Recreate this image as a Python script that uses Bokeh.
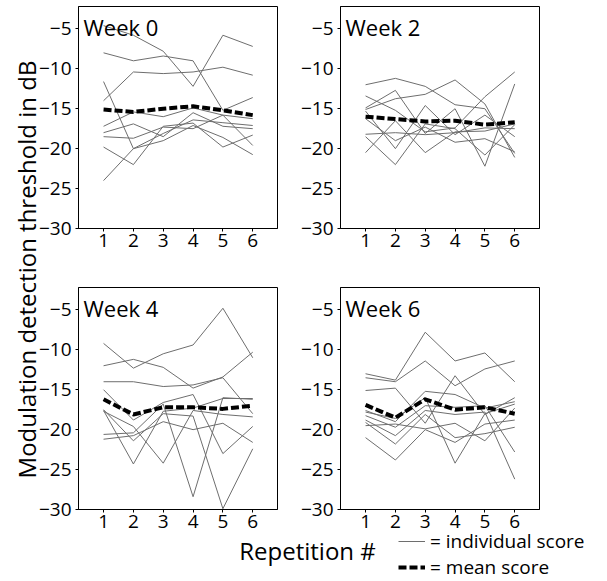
from bokeh.plotting import figure
from bokeh.layouts import row, column
from bokeh.models import Range1d, FixedTicker, Label, Legend, LegendItem
from bokeh.embed import file_html
from bokeh.resources import INLINE

# ---------------- data ----------------
repetitions = [1, 2, 3, 4, 5, 6]
y_ticks = [-30, -25, -20, -15, -10, -5]
week_titles = ["Week 0", "Week 2", "Week 4", "Week 6"]

week0_individual = [
    [-4.6, -5.8, -7.8, -12.2, -5.8, -7.2],
    [-8.0, -9.0, -8.4, -9.0, -15.2, -13.6],
    [-14.0, -10.4, -10.6, -10.4, -9.8, -10.8],
    [-11.6, -20.0, -19.0, -17.1, -18.6, -20.75],
    [-24.0, -20.0, -18.1, -16.4, -16.75, -17.1],
    [-19.8, -22.0, -17.2, -16.8, -19.8, -18.3],
    [-17.2, -15.4, -16.0, -14.9, -15.8, -16.25],
    [-18.0, -16.9, -18.5, -15.5, -17.2, -17.5],
    [-18.5, -18.7, -17.3, -17.5, -15.8, -19.6],
]
week0_mean = [-15.1, -15.4, -15.0, -14.7, -15.2, -15.8]

week2_individual = [
    [-12.0, -11.2, -12.2, -14.5, -15.0, -20.6],
    [-13.4, -15.2, -17.9, -17.4, -13.5, -10.4],
    [-14.9, -12.7, -18.1, -15.0, -22.2, -11.9],
    [-15.1, -13.75, -13.2, -11.4, -14.4, -21.1],
    [-16.25, -19.0, -17.3, -19.2, -18.75, -20.4],
    [-18.2, -18.0, -18.25, -18.0, -17.4, -17.5],
    [-18.5, -22.0, -16.9, -17.5, -20.8, -17.0],
    [-20.5, -16.5, -20.5, -17.9, -17.8, -16.9],
    [-15.3, -20.0, -14.6, -18.25, -15.8, -18.5],
]
week2_mean = [-16.0, -16.3, -16.6, -16.5, -17.0, -16.7]

week4_individual = [
    [-9.2, -12.3, -10.5, -9.4, -4.8, -11.0],
    [-12.0, -11.2, -12.2, -14.8, -13.4, -10.3],
    [-14.0, -14.0, -14.6, -14.4, -13.5, -18.0],
    [-15.0, -18.8, -16.6, -15.6, -23.0, -19.6],
    [-17.6, -24.3, -17.7, -17.3, -16.1, -16.1],
    [-17.7, -19.6, -24.2, -17.6, -18.1, -18.4],
    [-20.6, -20.4, -16.8, -28.4, -16.0, -16.2],
    [-21.2, -20.75, -19.0, -20.0, -19.2, -21.6],
    [-17.5, -21.4, -18.0, -18.3, -29.9, -22.4],
]
week4_mean = [-16.2, -18.1, -17.2, -17.2, -17.4, -17.0]

week6_individual = [
    [-13.0, -13.8, -7.8, -11.4, -10.4, -14.0],
    [-13.5, -14.0, -11.4, -14.5, -12.4, -11.4],
    [-15.1, -14.8, -19.2, -13.25, -18.1, -16.0],
    [-17.6, -19.0, -15.2, -15.6, -17.3, -16.5],
    [-18.25, -19.7, -17.0, -17.2, -17.0, -22.8],
    [-18.8, -20.75, -17.6, -18.1, -17.8, -26.2],
    [-19.1, -21.8, -18.1, -21.0, -20.5, -19.7],
    [-21.0, -23.8, -20.0, -21.6, -19.3, -18.8],
    [-17.8, -18.6, -16.0, -24.2, -18.0, -16.8],
    [-19.5, -19.3, -19.9, -19.2, -21.4, -17.3],
]
week6_mean = [-16.9, -18.5, -16.2, -17.5, -17.2, -18.0]

y_axis_label = "Modulation detection threshold in dB"
x_axis_label = "Repetition #"
legend_labels = ["= individual score", "= mean score"]

# ---------------- style ----------------
FONT = "Open Sans"
IND_COLOR = "#6e6e6e"
MEAN_DASH = "8 3"


def make_panel(title, individual, mean, bl, br, bt, bb):
    p = figure(frame_width=199, frame_height=222,
               min_border_left=bl, min_border_right=br,
               min_border_top=bt, min_border_bottom=bb,
               x_range=Range1d(0.16, 6.83), y_range=Range1d(-30, -2.2),
               output_backend="svg", toolbar_location=None)
    p.xgrid.visible = False
    p.ygrid.visible = False
    p.background_fill_color = "white"
    p.border_fill_alpha = 0
    p.outline_line_color = "black"
    p.outline_line_width = 1
    p.outline_line_alpha = 1
    for ax, ticks, standoff in ((p.xaxis[0], repetitions, 2), (p.yaxis[0], y_ticks, 4)):
        ax.ticker = FixedTicker(ticks=ticks)
        ax.major_tick_out = 3
        ax.major_tick_in = 0
        ax.minor_tick_out = 0
        ax.minor_tick_in = 0
        ax.axis_line_color = "black"
        ax.major_tick_line_color = "black"
        ax.major_label_text_font = FONT
        ax.major_label_text_font_size = "19px"
        ax.major_label_text_color = "black"
        ax.major_label_standoff = standoff
    p.multi_line(xs=[repetitions] * len(individual), ys=individual,
                 line_color=IND_COLOR, line_width=1)
    p.line(repetitions, mean, line_color="black", line_width=4, line_dash=MEAN_DASH)
    p.add_layout(Label(x=5, y=202, x_units="screen", y_units="screen", text=title,
                       text_font=FONT, text_font_size="22px", text_color="black",
                       text_align="left", text_baseline="alphabetic"))
    return p


p0 = make_panel(week_titles[0], week0_individual, week0_mean, 48, 15, 6, 52)
p1 = make_panel(week_titles[1], week2_individual, week2_mean, 48, 68, 6, 52)
p2 = make_panel(week_titles[2], week4_individual, week4_mean, 48, 15, 7, 40)
p3 = make_panel(week_titles[3], week6_individual, week6_mean, 48, 68, 7, 40)

ylab = figure(width=50, height=549, x_axis_type=None, y_axis_type=None,
              x_range=Range1d(0, 1), y_range=Range1d(0, 1),
              min_border=0, outline_line_color=None,
              output_backend="svg", toolbar_location=None,
              margin=(0, -20, 0, 0))
ylab.background_fill_alpha = 0
ylab.border_fill_alpha = 0
ylab.add_layout(Label(x=26, y=280, x_units="screen", y_units="screen", text=y_axis_label,
                      angle=90, angle_units="deg", text_font=FONT, text_font_size="24px",
                      text_align="center", text_baseline="middle", text_color="black"))

bottom = figure(width=607, height=60, x_axis_type=None, y_axis_type=None,
                x_range=Range1d(0, 1), y_range=Range1d(0, 1),
                min_border=0, outline_line_color=None,
                output_backend="svg", toolbar_location=None,
                margin=(-28, 0, 0, 0))
bottom.background_fill_alpha = 0
bottom.border_fill_alpha = 0
bottom.add_layout(Label(x=307, y=31, x_units="screen", y_units="screen", text=x_axis_label,
                        text_font=FONT, text_font_size="24px", text_align="center",
                        text_baseline="middle", text_color="black"))
# legend sample renderers (kept outside the visible range)
r_ind = bottom.line(x=[-1, -2], y=[-1, -2], line_color=IND_COLOR, line_width=1)
r_mean = bottom.line(x=[-1, -2], y=[-1, -2], line_color="black", line_width=4,
                     line_dash=MEAN_DASH)
legend = Legend(items=[LegendItem(label=legend_labels[0], renderers=[r_ind]),
                       LegendItem(label=legend_labels[1], renderers=[r_mean])],
                location=(398, 1), orientation="vertical",
                glyph_width=27, glyph_height=22, label_height=22, label_standoff=5,
                spacing=0, padding=0, margin=0,
                border_line_color=None, background_fill_alpha=0,
                label_text_font=FONT, label_text_font_size="19px", label_text_color="black")
bottom.add_layout(legend)

layout = column(row(ylab, column(row(p0, p1), row(p2, p3))), bottom)

open("out.html", "w").write(file_html(layout, INLINE))
